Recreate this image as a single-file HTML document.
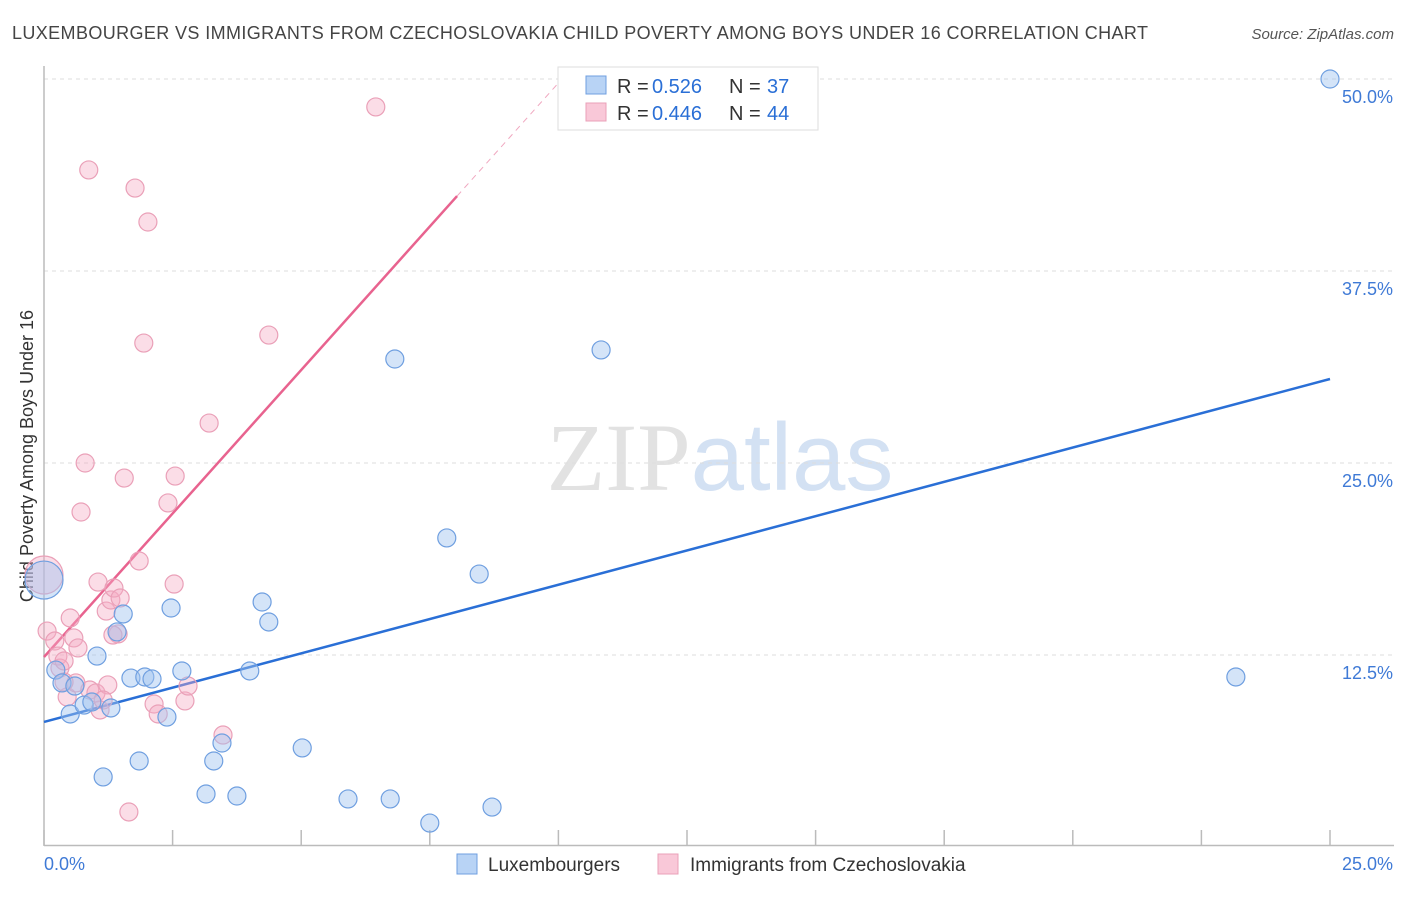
<!DOCTYPE html>
<html><head><meta charset="utf-8"><style>
body{margin:0;background:#fff;font-family:"Liberation Sans",sans-serif;}
svg text{font-family:"Liberation Sans",sans-serif;}
</style></head><body>
<svg id="chart" width="1406" height="892" xmlns="http://www.w3.org/2000/svg">
<text x="12" y="39" font-size="18" fill="#444" textLength="1136" lengthAdjust="spacing">LUXEMBOURGER VS IMMIGRANTS FROM CZECHOSLOVAKIA CHILD POVERTY AMONG BOYS UNDER 16 CORRELATION CHART</text>
<text x="1394" y="39" font-size="15" fill="#555" font-style="italic" text-anchor="end">Source: ZipAtlas.com</text>
<text x="720" y="490" font-size="96" text-anchor="middle"><tspan fill="#e2e2e2" font-family="Liberation Serif">ZIP</tspan><tspan fill="#d3e1f3">atlas</tspan></text>
<text transform="translate(33,456) rotate(-90)" font-size="18" fill="#333" text-anchor="middle">Child Poverty Among Boys Under 16</text>
<g id="grid"></g><g id="axes"></g><g id="lines"></g><g id="pts"></g>
<g>
<rect x="558" y="67" width="260" height="63" fill="#fff" stroke="#ddd"/>
<rect x="586" y="76" width="20" height="18" fill="#b8d3f5" stroke="#6f9fe0"/>
<rect x="586" y="103" width="20" height="18" fill="#f9c8d8" stroke="#eaa0b8"/>
<text x="617" y="93" font-size="20" fill="#333">R =</text>
<text x="652" y="93" font-size="20" fill="#2a6fd6">0.526</text>
<text x="729" y="93" font-size="20" fill="#333">N =</text>
<text x="767" y="93" font-size="20" fill="#2a6fd6">37</text>
<text x="617" y="120" font-size="20" fill="#333">R =</text>
<text x="652" y="120" font-size="20" fill="#2a6fd6">0.446</text>
<text x="729" y="120" font-size="20" fill="#333">N =</text>
<text x="767" y="120" font-size="20" fill="#2a6fd6">44</text>
</g>
<g>
<rect x="457" y="854" width="20" height="20" fill="#b8d3f5" stroke="#6f9fe0"/>
<text x="488" y="871" font-size="19" fill="#333">Luxembourgers</text>
<rect x="658" y="854" width="20" height="20" fill="#f9c8d8" stroke="#eaa0b8"/>
<text x="690" y="871" font-size="19" fill="#333">Immigrants from Czechoslovakia</text>
</g>
</svg>
<script>
const blueX=[0,0.23,0.35,0.60,0.51,0.78,0.93,1.03,1.15,1.30,1.42,1.54,1.69,1.85,1.96,2.10,2.39,2.47,2.68,3.30,3.46,3.15,3.75,4.00,4.24,4.37,5.02,5.91,6.73,6.82,7.50,7.83,8.46,8.71,10.83,23.17,25.0];
const blueY=[17.38,11.52,10.68,10.48,8.66,9.24,9.44,12.43,4.56,9.05,14.00,15.17,11.00,5.60,11.07,10.94,8.46,15.56,11.46,5.60,6.77,3.45,3.32,11.46,15.95,14.65,6.45,3.13,3.13,31.77,1.56,20.12,17.77,2.60,32.36,11.07,50.0];
const pinkX=[0,0.06,0.21,0.27,0.31,0.39,0.45,0.51,0.58,0.62,0.66,0.80,0.72,0.87,0.89,1.01,1.05,1.09,1.21,1.24,1.30,1.36,1.44,1.48,1.56,1.65,1.77,1.85,1.94,2.02,2.14,2.22,2.41,2.55,2.53,2.74,2.80,3.21,3.48,4.37,6.45,1.34,0.39,1.15];
const pinkY=[17.71,14.06,13.41,12.43,11.65,12.11,9.77,14.91,13.61,10.68,12.96,25.00,21.81,44.08,10.22,10.03,17.25,8.92,15.36,10.55,16.08,16.86,13.87,16.21,24.02,2.28,42.90,18.62,32.81,40.69,9.31,8.66,22.40,24.15,17.12,9.51,10.48,27.60,7.29,33.33,48.18,13.80,10.74,9.57];
const blueFit=[8.14,30.47];   // y at x=0 and x=25
const pinkFit=[12.37,3.737];  // intercept, slope
const yTicks=[12.5,25,37.5,50];
const yTickLabels=["12.5%","25.0%","37.5%","50.0%"];
const xEdgeLabels=["0.0%","25.0%"];
const NS="http://www.w3.org/2000/svg";
const X=v=>44+v*51.44, Y=v=>847-v*15.36;
function mk(tag,attrs,parent){const e=document.createElementNS(NS,tag);for(const k in attrs)e.setAttribute(k,attrs[k]);document.getElementById(parent).appendChild(e);return e;}
yTicks.forEach((t,i)=>{
 const g=mk('line',{x1:44,x2:1394,y1:Y(t),y2:Y(t),stroke:'#ddd','stroke-dasharray':'4,4'},'grid');
 
 
 const tx=mk('text',{x:1393,y:Y(t)+24,'font-size':18,fill:'#3f7ad6','text-anchor':'end'},'axes');
 tx.textContent=yTickLabels[i];
 
 
});
const ax=mk('line',{x1:44,x2:44,y1:66,y2:846,stroke:'#bbb','stroke-width':1.5},'axes');


const bx=mk('line',{x1:44,x2:1394,y1:845.5,y2:845.5,stroke:'#bbb','stroke-width':1.5},'axes');


for(let i=0;i<=10;i++){const t=mk('line',{x1:X(i*2.5),x2:X(i*2.5),y1:830,y2:845,stroke:'#bbb','stroke-width':1.5},'axes');
 
 }
const l0=mk('text',{x:44,y:870,'font-size':18,fill:'#3f7ad6'},'axes');l0.textContent=xEdgeLabels[0];


const l1=mk('text',{x:1393,y:870,'font-size':18,fill:'#3f7ad6','text-anchor':'end'},'axes');l1.textContent=xEdgeLabels[1];


const bl=mk('line',{x1:X(0),y1:Y(blueFit[0]),x2:X(25),y2:Y(blueFit[1]),stroke:'#2a6fd6','stroke-width':2.5},'lines');


const pe=8.03, pd=(50-pinkFit[0])/pinkFit[1];
const pl=mk('line',{x1:X(0),y1:Y(pinkFit[0]),x2:X(pe),y2:Y(pinkFit[0]+pinkFit[1]*pe),stroke:'#e8638f','stroke-width':2.5},'lines');


const pdl=mk('line',{x1:X(pe),y1:Y(pinkFit[0]+pinkFit[1]*pe),x2:X(pd),y2:Y(50),stroke:'#f0a8c0','stroke-width':1,'stroke-dasharray':'6,5'},'lines');


function pts(xs,ys,fill,stroke,name){xs.forEach((x,i)=>{const r=(x===0)?19:9;
 const c=mk('circle',{cx:X(x),cy:Y(ys[i]),r:r,fill:fill,stroke:stroke,'stroke-width':1.2},'pts');
 
 });}
pts(pinkX,pinkY,'rgba(244,170,195,0.4)','#eaa0b8','czechoslovakia-point');
pts(blueX,blueY,'rgba(160,196,240,0.45)','#6f9fe0','luxembourgers-point');
</script>
</body></html>
